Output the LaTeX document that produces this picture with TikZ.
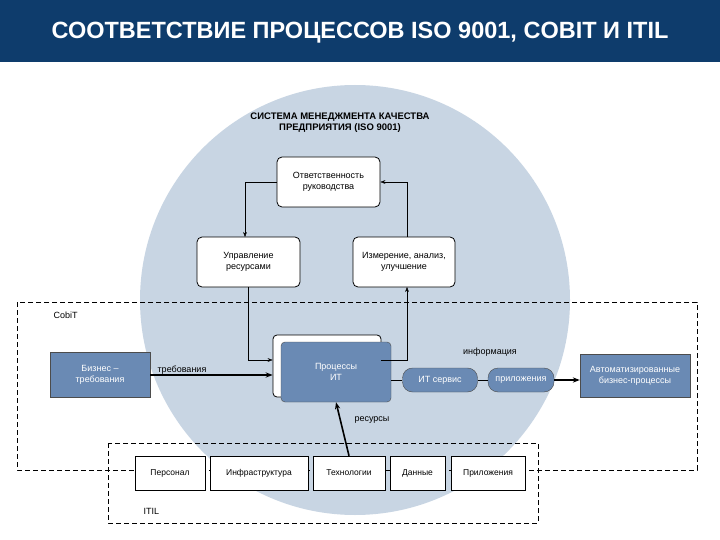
\documentclass[tikz,border=0pt]{standalone}
\usepackage{fontspec}
\setmainfont{Liberation Sans}
\usetikzlibrary{arrows.meta}
\definecolor{navy}{HTML}{0E3C6C}
\definecolor{circ}{HTML}{C8D5E3}
\definecolor{bblue}{HTML}{6A8AB4}
\begin{document}
\begin{tikzpicture}[x=1pt,y=-1pt,
  wbox/.style={draw,thick,fill=white,rounded corners=5pt,align=center,font=\fontsize{9}{10.5}\selectfont,inner sep=0},
  bbox/.style={draw=black!70,fill=bblue,text=white,align=center,font=\fontsize{9}{10.5}\selectfont,inner sep=0},
  pill/.style={draw=black!70,fill=bblue,text=white,rounded corners=10pt,font=\fontsize{9}{10.5}\selectfont,inner sep=0},
  sbox/.style={draw,fill=white,font=\fontsize{8.5}{10}\selectfont,inner sep=0},
  lbl/.style={font=\fontsize{9}{10.5}\selectfont},
  frame/.style={draw,thick,dash pattern=on 5pt off 3pt},
  conn/.style={draw,-{Stealth[length=5pt]}},
  big/.style={draw,line width=1.6pt,-{Stealth[length=7pt]}}]
\useasboundingbox (0,0) rectangle (720,540);
\fill[white] (0,0) rectangle (720,540);
\fill[circ] (355,300) circle (215);
\fill[navy] (0,0) rectangle (720,62);
\node[text=white,font=\bfseries\fontsize{23.5}{26}\selectfont] (title) at (360,33) {СООТВЕТСТВИЕ ПРОЦЕССОВ ISO 9001, COBIT И ITIL};
\node[align=center,font=\bfseries\fontsize{9.5}{11}\selectfont] (qms) at (340,123) {СИСТЕМА МЕНЕДЖМЕНТА КАЧЕСТВА\\ПРЕДПРИЯТИЯ (ISO 9001)};
\node[wbox,minimum width=103,minimum height=50] (otv) at (328.5,182) {Ответственность\\руководства};
\node[wbox,minimum width=103,minimum height=50] (upr) at (248.5,262) {Управление\\ресурсами};
\node[wbox,minimum width=102,minimum height=50] (izm) at (404,262) {Измерение, анализ,\\улучшение};
\draw[frame] (17,302) rectangle (697,470);
\node[lbl,anchor=west] (cobit) at (50,315) {CobiT};
\node[bbox,minimum width=100,minimum height=45] (biz) at (100,375) {Бизнес –\\требования};
\node[wbox,rounded corners=4pt,minimum width=108,minimum height=62] (pback) at (327,366) {};
\node[draw=black!70,fill=bblue,text=white,rounded corners=4pt,align=center,font=\fontsize{9}{10.5}\selectfont,minimum width=110,minimum height=60] (proc) at (336,372) {Процессы\\ИТ};
\node[pill,minimum width=75,minimum height=24] (its) at (440,380) {ИТ сервис};
\node[pill,minimum width=66,minimum height=24] (app) at (521,380) {приложения};
\node[bbox,minimum width=110,minimum height=43] (auto) at (635,376) {Автоматизированные\\бизнес-процессы};
\node[lbl] (treb) at (182,370) {требования};
\node[lbl] (inf) at (490,352) {информация};
\node[lbl] (res) at (372,420) {ресурсы};
\draw[frame] (108,443) rectangle (538,523);
\node[lbl,anchor=west] (itil) at (140,511) {ITIL};
\node[sbox,minimum width=70,minimum height=34] (pers) at (170,473) {Персонал};
\node[sbox,minimum width=98,minimum height=34] (infr) at (259,473) {Инфраструктура};
\node[sbox,minimum width=72,minimum height=34] (tech) at (349,473) {Технологии};
\node[sbox,minimum width=55,minimum height=34] (data) at (417.5,473) {Данные};
\node[sbox,minimum width=74,minimum height=34] (appl) at (488,473) {Приложения};
\draw[big] (tech.north) -- (proc.south);
\draw[big] (biz.east) -- (pback.west |- biz.east);
\draw[thick] (proc.east |- its.west) -- (its.west);
\draw[thick] (its.east) -- (app.west);
\draw[big] (app.east) -- (auto.west |- app.east);
\draw[conn] (otv.west) -- (245,182) -- (245,237);
\draw[conn] (248,287) -- (248,360) -- (pback.west |- 0,360);
\draw[conn] (pback.east |- 0,360) -- (407,360) -- (407,287);
\draw[conn] (407,237) -- (407,182) -- (otv.east);
\end{tikzpicture}
\end{document}
